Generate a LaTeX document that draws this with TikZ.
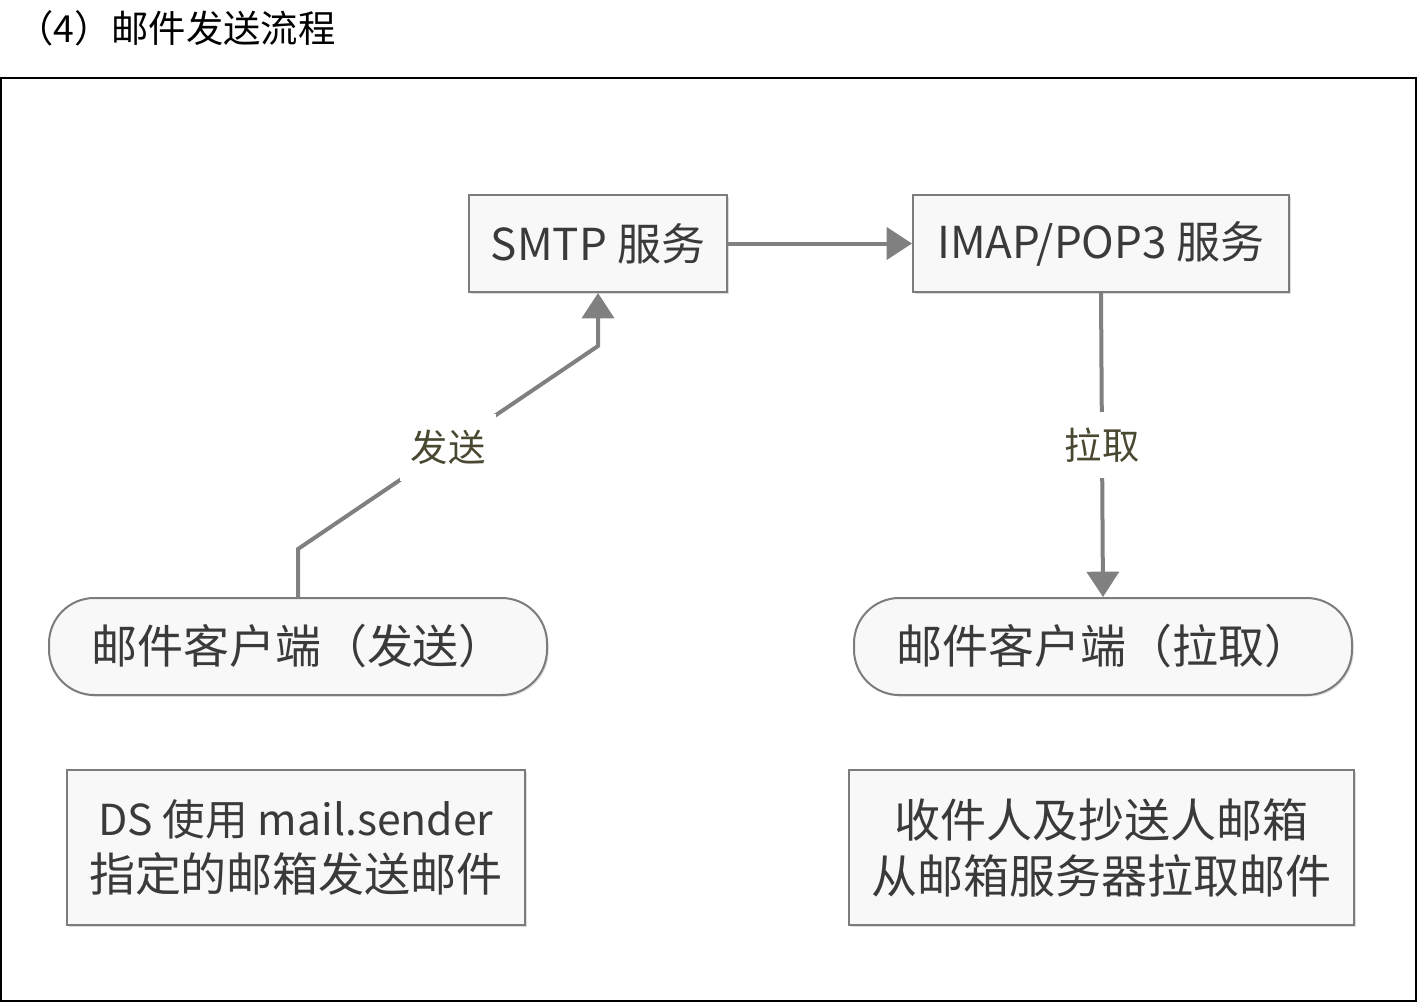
\documentclass[tikz,border=0pt]{standalone}
\usepackage{fontspec}
\setmainfont{Noto Sans CJK SC}
\usepackage{tikz}
\usetikzlibrary{arrows.meta}
\usetikzlibrary{calc}
\usetikzlibrary{shadows}

\definecolor{boxfill}{HTML}{F8F8F8}
\definecolor{boxline}{HTML}{7C7C7C}
\definecolor{linegray}{HTML}{808080}
\definecolor{textgray}{HTML}{3A3A3A}
\definecolor{lbltext}{HTML}{4B4832}

\tikzset{
  svcbox/.style={draw=boxline, line width=1.5pt, fill=boxfill, text=textgray,
    minimum height=72.75pt, inner sep=0pt, font=\fontsize{33}{42}\selectfont,
    drop shadow={shadow xshift=1.2pt, shadow yshift=-1.2pt, fill=gray!55}},
  clientbox/.style={svcbox, rounded corners=34pt, font=\fontsize{34.5}{42}\selectfont},
  notebox/.style={svcbox, minimum height=116.25pt, align=center, font=\fontsize{34.5}{42}\selectfont},
  conn/.style={draw=linegray, line width=3pt, -{Triangle[length=19pt,width=24pt]}},
  lbl/.style={fill=white, text=lbltext, inner xsep=8pt, inner ysep=0pt,
    minimum height=50pt, font=\fontsize{28}{32}\selectfont}
}

\begin{document}
\begin{tikzpicture}[x=0.75pt,y=0.75pt,yscale=-1,xscale=1]
\useasboundingbox (0,0) rectangle (1418,1004);
%Title
\node [anchor=west, inner sep=0pt, font=\fontsize{28}{32}\selectfont] (title) at (16,28) {（4）邮件发送流程};
%Frame
\draw [line width=1.5pt] (1,78) rectangle (1416,1001);

%Services
\node [svcbox, minimum width=193.5pt] (smtp) at (598,243.5) {SMTP 服务};
\node [svcbox, minimum width=282pt] (imap) at (1101,243.5) {IMAP/POP3 服务};
%Clients
\node [clientbox, minimum width=373.5pt] (clientS) at (298,646.5) {邮件客户端（发送）};
\node [clientbox, minimum width=373.5pt] (clientR) at (1103,646.5) {邮件客户端（拉取）};
%Notes
\node [notebox, minimum width=343.5pt] (noteS) at (296,847.5) {{\fontsize{32}{42}\selectfont DS 使用 mail.sender}\\指定的邮箱发送邮件};
\node [notebox, minimum width=378.75pt] (noteR) at (1101.5,847.5) {收件人及抄送人邮箱\\从邮箱服务器拉取邮件};

%Connectors
\coordinate (sendA) at ($(clientS.north)+(0,-48)$);
\coordinate (sendB) at ($(smtp.south)+(0,53)$);
\draw [conn] (clientS.north) -- (sendA) -- node [lbl] (sendLbl) {发送} (sendB) -- (smtp.south);
\draw [conn] (smtp.east) -- (imap.west);
\draw [conn] (imap.south) -- node [lbl] (pullLbl) {拉取} (clientR.north);
\end{tikzpicture}
\end{document}
